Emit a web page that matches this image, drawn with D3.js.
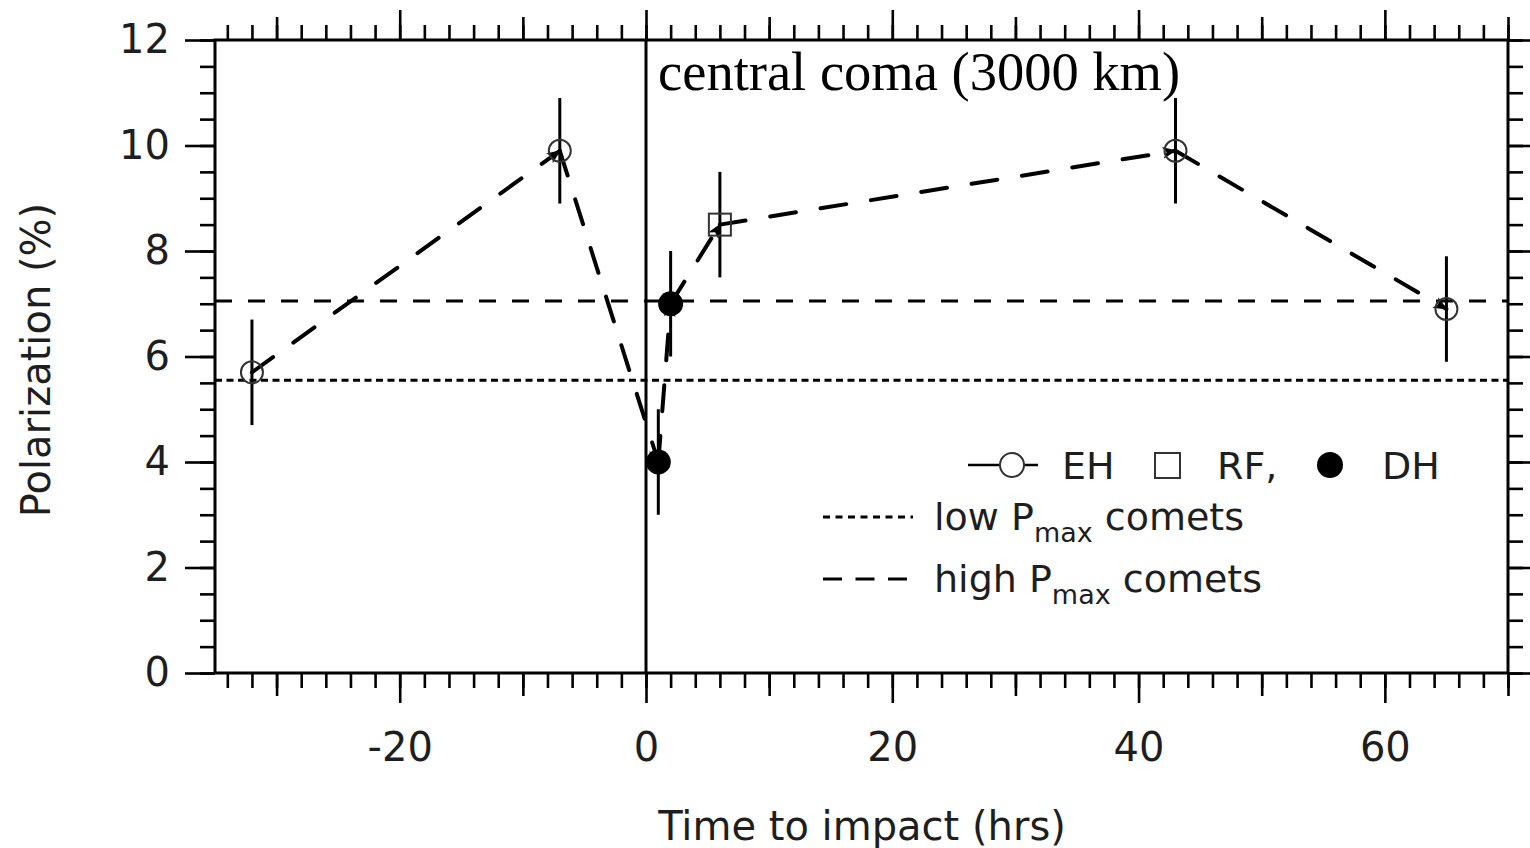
<!DOCTYPE html>
<html>
<head>
<meta charset="utf-8">
<script src="https://cdn.jsdelivr.net/npm/d3@7"></script>
<style>
  body { margin: 0; background: #fff; }
  svg { display: block; }
</style>
</head>
<body>
<svg id="chart" width="1530" height="848"></svg>
<script>
// Polarization of the central coma (3000 km) around impact, per site
const ehTime = [-32, -7, 43, 65];
const ehPol  = [5.7, 9.9, 9.9, 6.9];
const ehErr  = [1.0, 1.0, 1.0, 1.0];

const rfTime = [6];
const rfPol  = [8.5];
const rfErr  = [1.0];

const dhTime = [1, 2];
const dhPol  = [4.0, 7.0];
const dhErr  = [1.0, 1.0];

// Reference levels for comet classes
const lowPmax  = 5.55;
const highPmax = 7.05;

const xTickLabels = [-20, 0, 20, 40, 60];
const yTickLabels = [0, 2, 4, 6, 8, 10, 12];

const sans  = "'DejaVu Sans', 'Noto Sans', sans-serif";
const serif = "'Liberation Serif', 'DejaVu Serif', serif";

const svg = d3.select("#chart");
const plotLeft = 215, plotRight = 1508, plotTop = 40, plotBottom = 673;

const x = d3.scaleLinear().domain([-35, 70]).range([plotLeft, plotRight]);
const y = d3.scaleLinear().domain([0, 12]).range([plotBottom, plotTop]);

const xMinor  = d3.range(-34, 71, 2);
const xMedium = d3.range(-30, 71, 10).filter(v => v % 20 !== 0);
const yMinor  = d3.range(0, 12.01, 0.5);

function styleAxis(g) {
  g.select(".domain").remove();
  g.selectAll(".tick line").attr("stroke", "#000").attr("stroke-width", 2.6);
  g.selectAll(".tick text")
    .attr("fill", "#1e1e1e")
    .style("font-family", sans)
    .style("font-size", "40px");
}

// Bottom axis: minor / medium / major ticks
[[xMinor, 15], [xMedium, 23]].forEach(([vals, size]) => {
  svg.append("g").attr("transform", `translate(0,${plotBottom})`)
    .call(d3.axisBottom(x).tickValues(vals).tickSize(size).tickFormat(""))
    .call(styleAxis);
});
svg.append("g").attr("transform", `translate(0,${plotBottom})`)
  .call(d3.axisBottom(x).tickValues(xTickLabels).tickSize(30).tickPadding(30)
        .tickFormat(d => d < 0 ? "-" + Math.abs(d) : d))
  .call(styleAxis);

// Top axis, same tick structure without labels
[[xMinor, 15], [xMedium, 23], [xTickLabels, 30]].forEach(([vals, size]) => {
  svg.append("g").attr("transform", `translate(0,${plotTop})`)
    .call(d3.axisTop(x).tickValues(vals).tickSize(size).tickFormat(""))
    .call(styleAxis);
});

// Left axis
svg.append("g").attr("transform", `translate(${plotLeft},0)`)
  .call(d3.axisLeft(y).tickValues(yMinor).tickSize(15).tickFormat(""))
  .call(styleAxis);
svg.append("g").attr("transform", `translate(${plotLeft},0)`)
  .call(d3.axisLeft(y).tickValues(yTickLabels).tickSize(30).tickPadding(15).tickFormat(d3.format("d")))
  .call(styleAxis);

// Right axis
svg.append("g").attr("transform", `translate(${plotRight},0)`)
  .call(d3.axisRight(y).tickValues(yMinor).tickSize(15).tickFormat(""))
  .call(styleAxis);
svg.append("g").attr("transform", `translate(${plotRight},0)`)
  .call(d3.axisRight(y).tickValues(yTickLabels).tickSize(30).tickFormat(""))
  .call(styleAxis);

// Plot frame
svg.append("rect")
  .attr("x", plotLeft).attr("y", plotTop)
  .attr("width", plotRight - plotLeft).attr("height", plotBottom - plotTop)
  .attr("fill", "none").attr("stroke", "#000").attr("stroke-width", 3);

// Impact time
svg.append("line")
  .attr("x1", x(0)).attr("x2", x(0))
  .attr("y1", plotTop).attr("y2", plotBottom)
  .attr("stroke", "#000").attr("stroke-width", 3);

// Comet class reference levels
svg.append("line")
  .attr("x1", plotLeft).attr("x2", plotRight)
  .attr("y1", y(lowPmax)).attr("y2", y(lowPmax))
  .attr("stroke", "#000").attr("stroke-width", 3.2)
  .attr("stroke-dasharray", "7,4.5");
svg.append("line")
  .attr("x1", plotLeft).attr("x2", plotRight)
  .attr("y1", y(highPmax)).attr("y2", y(highPmax))
  .attr("stroke", "#000").attr("stroke-width", 3)
  .attr("stroke-dasharray", "17,16");

// Arrowhead for the time sequence
svg.append("defs").append("marker")
  .attr("id", "arrow")
  .attr("viewBox", "0 0 14 12")
  .attr("refX", 13).attr("refY", 6)
  .attr("markerWidth", 14).attr("markerHeight", 12)
  .attr("markerUnits", "userSpaceOnUse")
  .attr("orient", "auto")
  .append("path")
  .attr("d", "M0,0 L14,6 L0,12 L4,6 Z")
  .attr("fill", "#000");

// All observations in time order
const obs = [
  ...ehTime.map((t, i) => ({ t, p: ehPol[i], e: ehErr[i], site: "EH" })),
  ...rfTime.map((t, i) => ({ t, p: rfPol[i], e: rfErr[i], site: "RF" })),
  ...dhTime.map((t, i) => ({ t, p: dhPol[i], e: dhErr[i], site: "DH" }))
].sort((a, b) => a.t - b.t);

const segs = d3.pairs(obs);
svg.append("g").selectAll("line").data(segs).join("line")
  .attr("x1", d => x(d[0].t)).attr("y1", d => y(d[0].p))
  .attr("x2", d => x(d[1].t)).attr("y2", d => y(d[1].p))
  .attr("stroke", "#000").attr("stroke-width", 4)
  .attr("stroke-dasharray", "26,25")
  .attr("stroke-linecap", "round")
  .attr("marker-end", "url(#arrow)");

// Error bars
svg.append("g").selectAll("line").data(obs).join("line")
  .attr("x1", d => x(d.t)).attr("x2", d => x(d.t))
  .attr("y1", d => y(d.p - d.e)).attr("y2", d => y(d.p + d.e))
  .attr("stroke", "#000").attr("stroke-width", 3);

// Markers
const marks = svg.append("g");
marks.selectAll("circle.eh").data(obs.filter(d => d.site === "EH")).join("circle")
  .attr("class", "eh")
  .attr("cx", d => x(d.t)).attr("cy", d => y(d.p)).attr("r", 11)
  .attr("fill", "none").attr("stroke", "#333").attr("stroke-width", 2);
marks.selectAll("rect.rf").data(obs.filter(d => d.site === "RF")).join("rect")
  .attr("class", "rf")
  .attr("x", d => x(d.t) - 11).attr("y", d => y(d.p) - 11)
  .attr("width", 22).attr("height", 22)
  .attr("fill", "none").attr("stroke", "#333").attr("stroke-width", 2);
marks.selectAll("circle.dh").data(obs.filter(d => d.site === "DH")).join("circle")
  .attr("class", "dh")
  .attr("cx", d => x(d.t)).attr("cy", d => y(d.p)).attr("r", 12.5)
  .attr("fill", "#000");

// Panel title
svg.append("text")
  .attr("x", 658).attr("y", 90)
  .style("font-family", serif).style("font-size", "54.5px")
  .attr("fill", "#000")
  .text("central coma (3000 km)");

// Axis titles
svg.append("text")
  .attr("x", 862).attr("y", 840)
  .attr("text-anchor", "middle")
  .style("font-family", sans).style("font-size", "40px")
  .attr("fill", "#1e1e1e")
  .text("Time to impact (hrs)");
svg.append("text")
  .attr("transform", "translate(50,360) rotate(-90)")
  .attr("text-anchor", "middle")
  .style("font-family", sans).style("font-size", "40px")
  .attr("fill", "#1e1e1e")
  .text("Polarization (%)");

// Legend
const lg = svg.append("g").style("font-family", sans).style("font-size", "38px").attr("fill", "#1e1e1e");
lg.append("line").attr("x1", 968).attr("x2", 1038).attr("y1", 465).attr("y2", 465)
  .attr("stroke", "#000").attr("stroke-width", 2.6);
lg.append("circle").attr("cx", 1012).attr("cy", 465).attr("r", 12)
  .attr("fill", "#fff").attr("stroke", "#333").attr("stroke-width", 2);
lg.append("text").attr("x", 1062).attr("y", 479).text("EH");
lg.append("rect").attr("x", 1155).attr("y", 453).attr("width", 25).attr("height", 25)
  .attr("fill", "none").attr("stroke", "#333").attr("stroke-width", 2);
lg.append("text").attr("x", 1217).attr("y", 479).text("RF,");
lg.append("circle").attr("cx", 1330).attr("cy", 465).attr("r", 13).attr("fill", "#000");
lg.append("text").attr("x", 1382).attr("y", 479).text("DH");

lg.append("line").attr("x1", 823).attr("x2", 913).attr("y1", 517).attr("y2", 517)
  .attr("stroke", "#000").attr("stroke-width", 3).attr("stroke-dasharray", "7,5.5");
const t1 = lg.append("text").attr("x", 934).attr("y", 530);
t1.append("tspan").text("low P");
t1.append("tspan").attr("dy", 12).style("font-size", "27px").text("max");
t1.append("tspan").attr("dy", -12).text(" comets");

lg.append("line").attr("x1", 823).attr("x2", 907).attr("y1", 579).attr("y2", 579)
  .attr("stroke", "#000").attr("stroke-width", 3).attr("stroke-dasharray", "19,13.5");
const t2 = lg.append("text").attr("x", 934).attr("y", 592);
t2.append("tspan").text("high P");
t2.append("tspan").attr("dy", 12).style("font-size", "27px").text("max");
t2.append("tspan").attr("dy", -12).text(" comets");
</script>
</body>
</html>
